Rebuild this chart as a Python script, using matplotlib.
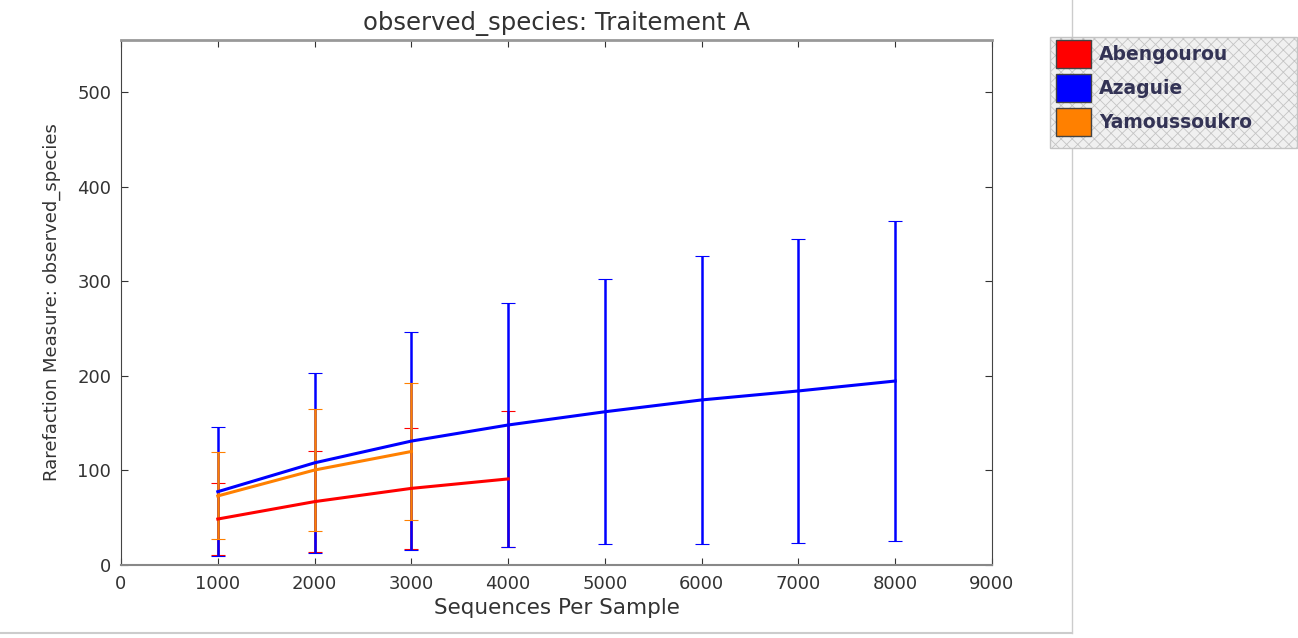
import matplotlib
matplotlib.use("Agg")
import matplotlib.pyplot as plt
from matplotlib.patches import Patch, Rectangle
from matplotlib.lines import Line2D

seqs_abengourou = [1000, 2000, 3000, 4000]
mean_abengourou = [48.6, 67, 81, 91]
std_abengourou = [38, 53, 64, 72]

seqs_azaguie = [1000, 2000, 3000, 4000, 5000, 6000, 7000, 8000]
mean_azaguie = [77.5, 108, 131, 148, 162, 174.5, 184, 194.5]
std_azaguie = [68, 95, 115, 129, 140, 152, 161, 169]

seqs_yamoussoukro = [1000, 2000, 3000]
mean_yamoussoukro = [73, 100.4, 120]
std_yamoussoukro = [46, 64, 72]

series = [
    ("Abengourou", seqs_abengourou, mean_abengourou, std_abengourou, "#ff0000"),
    ("Azaguie", seqs_azaguie, mean_azaguie, std_azaguie, "#0000ff"),
    ("Yamoussoukro", seqs_yamoussoukro, mean_yamoussoukro, std_yamoussoukro, "#ff8000"),
]

xticks = [0, 1000, 2000, 3000, 4000, 5000, 6000, 7000, 8000, 9000]
yticks = [0, 100, 200, 300, 400, 500]

plt.rcParams["hatch.color"] = "#dadada"
plt.rcParams["hatch.linewidth"] = 0.6

W, H = 1298, 638
fig = plt.figure(figsize=(W / 100, H / 100), dpi=100)
ax = fig.add_axes([121/W, 73/H, (992-121)/W, (565-40)/H])

for name, x, m, s, c in series:
    ax.errorbar(x, m, yerr=s, color=c, lw=2.2, elinewidth=1.8, capsize=5,
                capthick=0.8, label=name)

ax.set_xlim(0, 9000)
ax.set_ylim(0, 555)
ax.set_xticks(xticks)
ax.set_yticks(yticks)
ax.tick_params(direction="in", top=True, right=True, length=5, labelsize=13,
               labelcolor="#333333", color="#333333", pad=7)
for sp in ax.spines.values():
    sp.set_color("#444444")
ax.spines["top"].set_color("#999999")
ax.spines["top"].set_linewidth(2)
ax.spines["bottom"].set_color("#888888")
ax.spines["bottom"].set_linestyle((0, (3, 1)))
ax.spines["bottom"].set_linewidth(1.5)

ax.set_title("observed_species: Traitement A", fontsize=17.5, color="#333333",
             pad=7)
ax.set_xlabel("Sequences Per Sample", fontsize=15.5, color="#333333", labelpad=4)
ax.set_ylabel("Rarefaction Measure: observed_species", fontsize=13,
              color="#333333", labelpad=12)

# legend background box
fig.add_artist(Rectangle((1050/W, 1 - 148/H), 247/W, 111/H, transform=fig.transFigure,
                         facecolor="#f0f0f0", edgecolor="#c4c4c4", lw=1,
                         hatch="xxx", zorder=4))

handles = [Patch(facecolor=c, edgecolor="#444444", label=n) for n, _, _, _, c in series]
leg = fig.legend(handles=handles, loc="upper left",
                 bbox_to_anchor=(1054/W, 1 - 38/H), frameon=False,
                 fontsize=13.5, handlelength=1.87, handleheight=1.9,
                 borderaxespad=0, borderpad=0.1, labelspacing=0.33,
                 handletextpad=0.45)
leg.set_zorder(6)
for t in leg.get_texts():
    t.set_color("#333355")
    t.set_fontweight("bold")

# outer screenshot frame lines
fig.add_artist(Line2D([1072/W, 1072/W], [0.008, 1], transform=fig.transFigure,
                      color="#cccccc", lw=1, zorder=0))
fig.add_artist(Line2D([0, 1072/W], [0.008, 0.008], transform=fig.transFigure,
                      color="#cccccc", lw=1.5, zorder=0))

fig.savefig("out.png", dpi=100)
